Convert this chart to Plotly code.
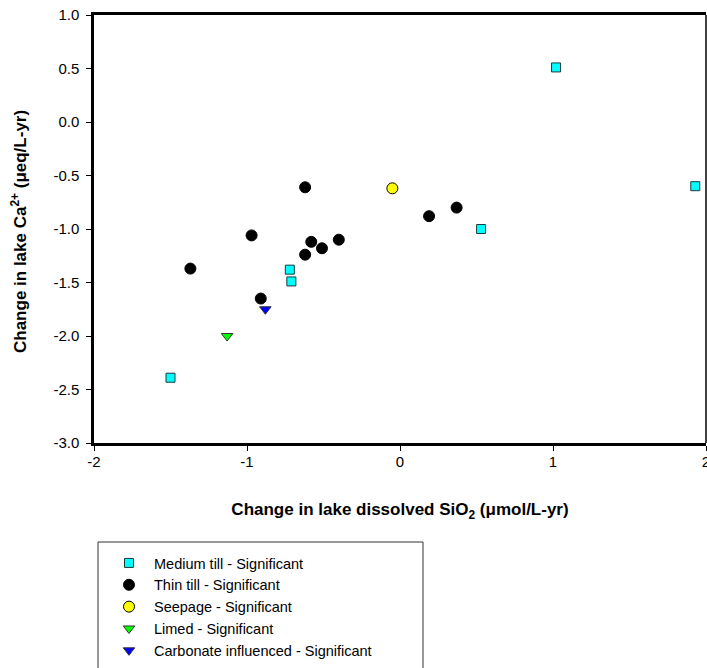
import plotly.graph_objects as go

# Data
medium_x = [1.02, 1.93, 0.53, -0.72, -0.71, -1.50]
medium_y = [0.51, -0.60, -1.00, -1.38, -1.49, -2.39]

thin_x = [-0.62, -0.97, -1.37, -0.91, -0.62, -0.58, -0.51, -0.40, 0.19, 0.37]
thin_y = [-0.61, -1.06, -1.37, -1.65, -1.24, -1.12, -1.18, -1.10, -0.88, -0.80]

seep_x = [-0.05]
seep_y = [-0.62]

limed_x = [-1.13]
limed_y = [-2.00]

carb_x = [-0.88]
carb_y = [-1.75]

x_ticks = [-2, -1, 0, 1, 2]
y_ticks = [1.0, 0.5, 0.0, -0.5, -1.0, -1.5, -2.0, -2.5, -3.0]

FONT = "Liberation Sans, Arial, sans-serif"

fig = go.Figure()
fig.add_trace(go.Scatter(x=medium_x, y=medium_y, mode="markers",
                         name="Medium till - Significant",
                         marker=dict(symbol="square", size=9, color="#00FFFF",
                                     line=dict(color="#1a3a3a", width=1))))
fig.add_trace(go.Scatter(x=thin_x, y=thin_y, mode="markers",
                         name="Thin till - Significant",
                         marker=dict(symbol="circle", size=11, color="black",
                                     line=dict(color="black", width=1))))
fig.add_trace(go.Scatter(x=seep_x, y=seep_y, mode="markers",
                         name="Seepage - Significant",
                         marker=dict(symbol="circle", size=11, color="#FFFF00",
                                     line=dict(color="black", width=1))))
fig.add_trace(go.Scatter(x=limed_x, y=limed_y, mode="markers",
                         name="Limed - Significant",
                         marker=dict(symbol="triangle-down", size=10, color="#00FF00",
                                     line=dict(color="#333333", width=1))))
fig.add_trace(go.Scatter(x=carb_x, y=carb_y, mode="markers",
                         name="Carbonate influenced - Significant",
                         marker=dict(symbol="triangle-down", size=10, color="#0000FF",
                                     line=dict(color="#333333", width=1))))

L, R, T, B = 94, 1, 15, 225
W, H = 707, 668
pw = W - L - R
ph = H - T - B

def px_x(p):
    return (p - L) / pw

def px_y(p):
    return (H - B - p) / ph

fig.update_layout(
    width=W, height=H,
    margin=dict(l=L, r=R, t=T, b=B, autoexpand=False),
    paper_bgcolor="white", plot_bgcolor="white",
    font=dict(family=FONT, color="black", size=15),
    showlegend=True,
    legend=dict(xref="container", yref="container",
                x=104 / W, y=(H - 547) / H, xanchor="left", yanchor="top",
                bgcolor="rgba(0,0,0,0)", borderwidth=0,
                font=dict(family=FONT, size=14.5, color="black"),
                tracegroupgap=0, itemwidth=40),
    xaxis=dict(range=[-2, 2], tickvals=x_ticks, ticktext=[str(v) for v in x_ticks],
               showgrid=False, zeroline=False,
               showline=True, linecolor="black", linewidth=2.5, mirror=True,
               ticks="outside", ticklen=5, tickwidth=1, tickcolor="black",
               ticklabeloverflow="allow", ticklabelstandoff=-2,
               tickfont=dict(family=FONT, size=15),
               title=dict(text="<b>Change in lake dissolved SiO<sub>2</sub> (μmol/L-yr)</b>",
                          font=dict(family=FONT, size=17), standoff=35)),
    yaxis=dict(range=[-3, 1], tickvals=y_ticks, ticktext=[f"{v:.1f}" for v in y_ticks],
               showgrid=False, zeroline=False,
               showline=True, linecolor="black", linewidth=2.5, mirror=False,
               ticks="outside", ticklen=5, tickwidth=1, tickcolor="black",
               ticklabelstandoff=4,
               tickfont=dict(family=FONT, size=15)),
    annotations=[
        dict(text="<b>Change in lake Ca<sup>2+</sup> (μeq/L-yr)</b>",
             xref="paper", yref="paper", x=px_x(19), y=px_y(232),
             xanchor="center", yanchor="middle", textangle=-90, showarrow=False,
             font=dict(family=FONT, size=17, color="black")),
    ],
    shapes=[
        dict(type="line", xref="paper", yref="paper", x0=1, x1=1, y0=0, y1=1,
             line=dict(color="black", width=1.5)),
        dict(type="rect", xref="paper", yref="paper",
             x0=px_x(98), x1=px_x(423), y0=px_y(542), y1=px_y(672),
             line=dict(color="#333333", width=1)),
    ],
)

fig.write_html("out.html")
